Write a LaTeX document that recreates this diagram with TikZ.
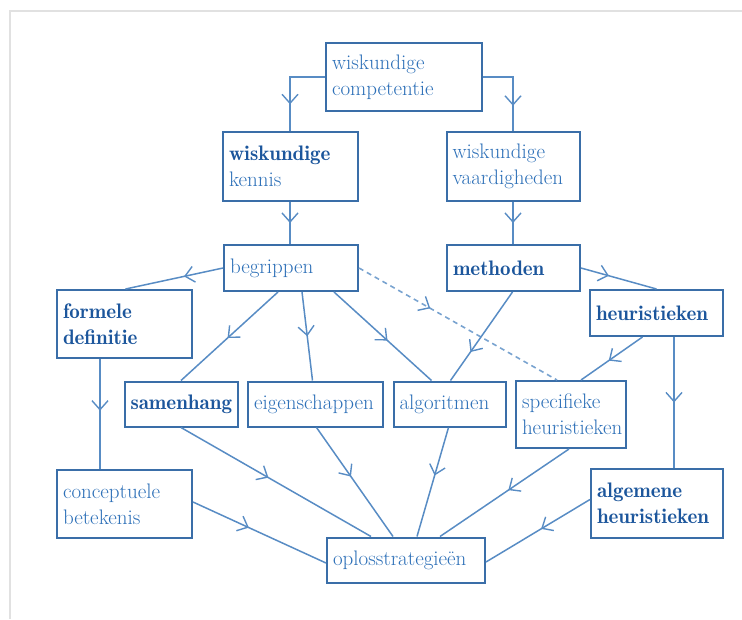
\documentclass[tikz,border=0pt]{standalone}
\usepackage{fontspec}
\newfontfamily\demifont{Latin Modern Roman Demi}
\usetikzlibrary{arrows.meta,decorations.markings}
\definecolor{linecol}{RGB}{88,140,196}
\definecolor{boxcol}{RGB}{58,110,168}
\definecolor{txtcol}{RGB}{45,112,184}
\definecolor{txtdark}{RGB}{28,86,156}
\definecolor{framecol}{RGB}{225,225,225}
\tikzset{
  box/.style={draw=boxcol, line width=2pt, fill=white, inner xsep=6pt, inner ysep=0pt,
    align=left, text=txtcol, font=\fontsize{21}{26}\selectfont},
  strong/.style={text=txtdark, font=\fontsize{21}{26}\selectfont\demifont},
  conn/.style={draw=linecol, line width=1.5pt},
  dashconn/.style={draw=linecol!80, line width=1.6pt, dash pattern=on 5pt off 4pt},
  midarrow/.style={postaction={decorate}, decoration={markings,
    mark=at position #1 with {\arrow[linecol, line width=1.4pt]{Straight Barb[length=9pt,width=16pt]}}}},
}
\begin{document}
\begin{tikzpicture}[x=1pt,y=-1pt]
\useasboundingbox (0,0) rectangle (742,619);
\draw[framecol, line width=2pt] (10,619) -- (10,11) -- (742,11);

% nodes
\node[box, minimum width=156pt, minimum height=68pt, text width=144pt] (comp) at (404,77) {wiskundige\\competentie};
\node[box, minimum width=135pt, minimum height=69pt, text width=123pt] (kennis) at (290.5,166.5) {{\demifont\color{txtdark}wiskundige}\\kennis};
\node[box, minimum width=133pt, minimum height=69pt, text width=121pt] (vaard) at (513,166.5) {wiskundige\\vaardigheden};
\node[box, minimum width=134pt, minimum height=46pt, text width=122pt] (begr) at (291,268) {begrippen};
\node[box, strong, minimum width=133pt, minimum height=46pt, text width=121pt] (meth) at (513.5,268) {methoden};
\node[box, strong, minimum width=135pt, minimum height=68pt, text width=123pt] (form) at (124.5,324) {formele\\definitie};
\node[box, strong, minimum width=133pt, minimum height=46pt, text width=121pt] (heur) at (656.5,313) {heuristieken};
\node[box, strong, minimum width=113pt, minimum height=45pt, text width=101pt] (samen) at (181,404) {samenhang};
\node[box, minimum width=135pt, minimum height=45pt, text width=123pt] (eigen) at (315.5,404) {eigenschappen};
\node[box, minimum width=112pt, minimum height=45pt, text width=100pt] (algo) at (449.5,404) {algoritmen};
\node[box, minimum width=110pt, minimum height=67pt, text width=98pt] (spec) at (571,414.5) {specifieke\\heuristieken};
\node[box, minimum width=135pt, minimum height=68pt, text width=123pt] (conc) at (124.5,504) {conceptuele\\betekenis};
\node[box, strong, minimum width=132pt, minimum height=69pt, text width=120pt] (alg) at (657,503.5) {algemene\\heuristieken};
\node[box, minimum width=158pt, minimum height=45pt, text width=146pt] (opl) at (406,560) {oplosstrategieën};

% helper coordinates
\coordinate (cL) at (290,77);
\coordinate (cR) at (513,77);
\coordinate (vL) at (100,0);
\coordinate (vR) at (674,0);

% connectors
\draw[conn, midarrow=0.7] (comp.west |- cL) -- (cL) -- (kennis.north -| cL);
\draw[conn, midarrow=0.7] (comp.east |- cR) -- (cR) -- (vaard.north -| cR);
\draw[conn, midarrow=0.5] (kennis.south -| cL) -- (begr.north -| cL);
\draw[conn, midarrow=0.5] (vaard.south -| cR) -- (meth.north -| cR);
\draw[conn, midarrow=0.4] (begr.west) -- ([xshift=1pt]form.north);
\draw[conn, midarrow=0.37] (meth.east) -- ([xshift=0pt]heur.north);
\draw[conn, midarrow=0.52] ([xshift=-13pt]begr.south) -- (samen.north);
\draw[conn, midarrow=0.5] ([xshift=11pt]begr.south) -- ([xshift=-3pt]eigen.north);
\draw[conn, midarrow=0.55] ([xshift=43pt]begr.south) -- ([xshift=-18pt]algo.north);
\draw[dashconn, midarrow=0.36] (begr.east) -- ([xshift=-14pt]spec.north);
\draw[conn, midarrow=0.68] ([xshift=-1pt]meth.south) -- ([xshift=1pt]algo.north);
\draw[conn, midarrow=0.55] ([xshift=-14pt]heur.south) -- ([xshift=10pt]spec.north);
\draw[conn, midarrow=0.5] (heur.south -| vR) -- (alg.north -| vR);
\draw[conn, midarrow=0.47] (form.south -| vL) -- (conc.north -| vL);
\draw[conn, midarrow=0.46] (samen.south) -- ([xshift=-35pt]opl.north);
\draw[conn, midarrow=0.45] ([xshift=1pt]eigen.south) -- ([xshift=-13pt]opl.north);
\draw[conn, midarrow=0.44] ([xshift=-1pt]algo.south) -- ([xshift=11pt]opl.north);
\draw[conn, midarrow=0.47] ([xshift=-2pt]spec.south) -- ([xshift=34pt]opl.north);
\draw[conn, midarrow=0.42] ([yshift=2pt]conc.east) -- ([yshift=-3pt]opl.west);
\draw[conn, midarrow=0.47] ([yshift=4pt]alg.west) -- ([yshift=-2pt]opl.east);
\end{tikzpicture}
\end{document}
